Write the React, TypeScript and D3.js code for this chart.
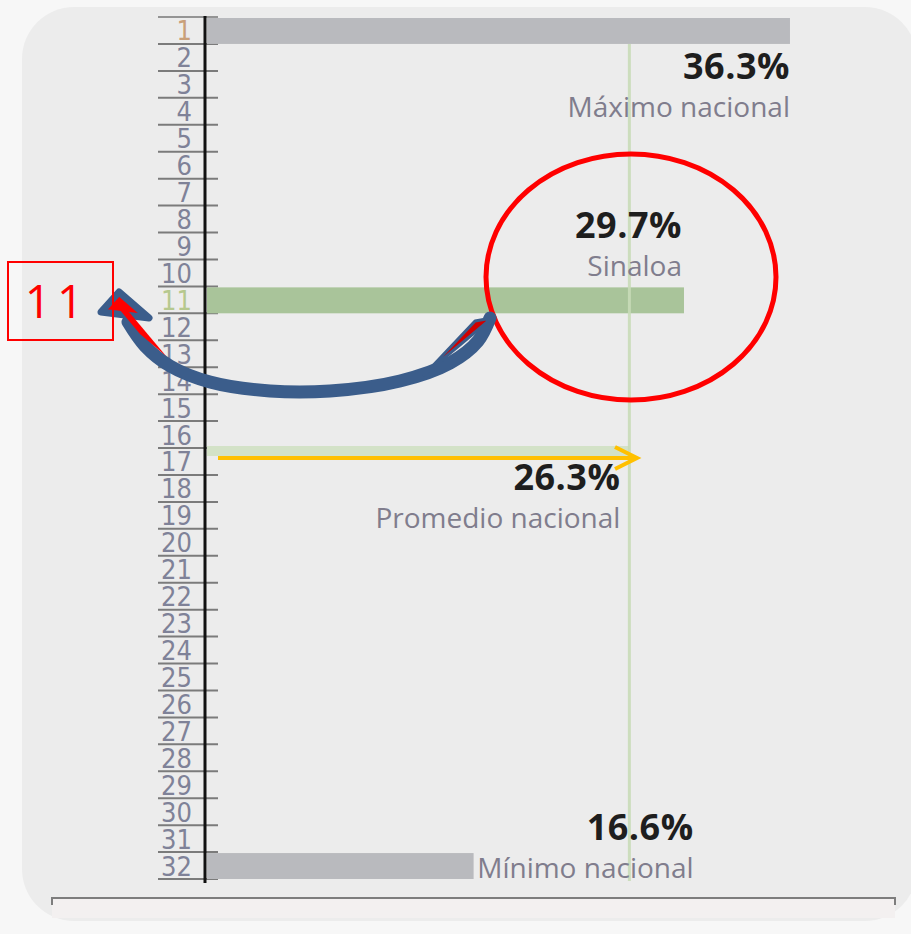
import React from "react";
import * as d3 from "d3";

const rankLabels = ["1","2","3","4","5","6","7","8","9","10","11","12","13","14","15","16","17","18","19","20","21","22","23","24","25","26","27","28","29","30","31","32"];
const barRanks = [1, 11, 32];
const barValues = [36.3, 29.7, 16.6];
const barNames = ["Máximo nacional", "Sinaloa", "Mínimo nacional"];
const averageValue = 26.3;
const averageName = "Promedio nacional";
const averageRank = 17;
const highlightRank = 11;

const W = 911, H = 934;
const FONT = "'Open Sans', 'Noto Sans', sans-serif";
const NARROW = "'Liberation Sans Narrow', 'Arial Narrow', 'DejaVu Sans Condensed', sans-serif";

export default function App() {
  const x = d3.scaleLinear().domain([0, 40]).range([207, 207 + 16.06 * 40]);
  const y = d3.scaleBand<string>().domain(rankLabels).range([17, 879]).padding(0);
  const step = y.step();
  const boundaries = d3.range(rankLabels.length + 1).map((i) => 17 + i * step);

  const barFill = (r: number) => (r === highlightRank ? "#a9c49a" : "#b9babe");
  const labelColor = (l: string) => (l === "1" ? "#c9a07a" : l === "11" ? "#b6c88e" : "#7f8298");

  const pctLabelPos = [
    { xr: x(barValues[0]), yb: y(String(barRanks[0]))! + step * 2.3 },
    { xr: x(barValues[1]) - 2, yb: y(String(barRanks[1]))! - step * 1.8 },
    { xr: x(barValues[2]) + 220, yb: y(String(barRanks[2]))! - step * 0.45 },
  ];

  const arrowPts: [number, number][] = [
    [490, 318], [478, 341], [450, 363], [400, 381], [330, 391], [270, 391],
    [210, 382], [170, 366], [145, 346], [128, 322],
  ];
  const arrowPath = d3.line().curve(d3.curveCatmullRom)(arrowPts) || "";

  const avgY = y(String(averageRank))!;
  const arrowY = avgY + 10;

  return (
    <div style={{ position: "absolute", left: 0, top: 0 }}>
      <svg width={W} height={H} style={{ display: "block" }}>
        <rect x={0} y={0} width={W} height={H} fill="#f7f7f7" />
        <rect x={22} y={7} width={895} height={914} rx={52} ry={52} fill="#ececec" />
        <rect x={52} y={898} width={843} height={20} fill="#f3f0f0" />
        <path d="M52,905 L52,898 L895,898 L895,905" fill="none" stroke="#7d7d7d" strokeWidth={2} />

        {boundaries.map((b, i) => (
          <line key={"t" + i} x1={158} x2={218} y1={b} y2={b} stroke="#6f6f6f" strokeWidth={2} opacity={i === 0 ? 0.7 : 0.9} />
        ))}

        {barRanks.map((r, i) => (
          <rect key={"b" + i} x={x(0)} y={y(String(r))! + 1} width={x(barValues[i]) - x(0)} height={step - 1} fill={barFill(r)} />
        ))}

        <rect x={x(0)} y={avgY - 2} width={x(averageValue) - x(0)} height={10} fill="#d3e2c7" />

        <line x1={x(averageValue)} x2={x(averageValue)} y1={y("2")!} y2={y("32")! + step + 2} stroke="#c9dcb8" strokeWidth={3} opacity={0.9} />

        <line x1={205} x2={205} y1={16} y2={883} stroke="#111" strokeWidth={3} />

        {rankLabels.map((l) => (
          <text key={"l" + l} x={192} y={y(l)! + step / 2 + 10} textAnchor="end" fontFamily={NARROW} fontSize={27} fill={labelColor(l)}>
            {l}
          </text>
        ))}

        {barValues.map((v, i) => (
          <g key={"v" + i}>
            <text x={pctLabelPos[i].xr} y={pctLabelPos[i].yb} textAnchor="end" fontFamily={FONT} fontWeight={700} fontSize={36} letterSpacing={0.5} fill="#1e1e1e">
              {v.toFixed(1) + "%"}
            </text>
            <text x={pctLabelPos[i].xr} y={pctLabelPos[i].yb + 38} textAnchor="end" fontFamily={FONT} fontSize={28} fill="#807d8d">
              {barNames[i]}
            </text>
          </g>
        ))}
        <text x={x(averageValue) - 9} y={avgY + 42} textAnchor="end" fontFamily={FONT} fontWeight={700} fontSize={36} letterSpacing={0.5} fill="#1e1e1e">
          {averageValue.toFixed(1) + "%"}
        </text>
        <text x={x(averageValue) - 9} y={avgY + 80} textAnchor="end" fontFamily={FONT} fontSize={28} fill="#807d8d">
          {averageName}
        </text>

        <line x1={218} x2={634} y1={arrowY} y2={arrowY} stroke="#ffc000" strokeWidth={4} />
        <path d={`M615,${arrowY - 11} L637,${arrowY} L615,${arrowY + 11}`} fill="none" stroke="#ffc000" strokeWidth={4} />

        <ellipse cx={631} cy={277} rx={145} ry={123} fill="none" stroke="#ff0000" strokeWidth={5} />

        <path d={arrowPath} fill="none" stroke="#3b5d8b" strokeWidth={13} strokeLinecap="round" />
        <polygon points="475,321 492,318 424,375" fill="#d00000" stroke="#3b5d8b" strokeWidth={3} strokeLinejoin="round" />
        <polygon points="101,312 119,292 149,318" fill="#ff0000" stroke="#3b5d8b" strokeWidth={7} strokeLinejoin="round" />
        <polygon points="114,303 124,306 166,356 140,334" fill="#ff0000" />

        <rect x={8} y={262} width={105} height={78} fill="none" stroke="#ff0000" strokeWidth={2} />
        <text x={57} y={318} textAnchor="middle" fontFamily={FONT} fontSize={46} letterSpacing={6} fill="#ff0000">
          11
        </text>
      </svg>
    </div>
  );
}
